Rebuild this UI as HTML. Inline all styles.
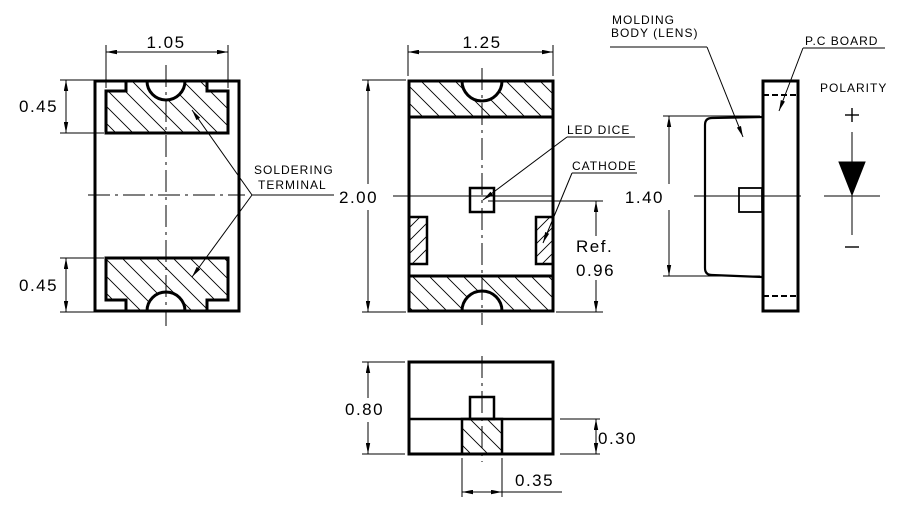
<!DOCTYPE html>
<html><head><meta charset="utf-8"><style>
html,body{margin:0;padding:0;background:#fff;}
svg{display:block;}
text{font-family:"Liberation Sans",sans-serif;fill:#000;}
</style></head><body>
<svg width="901" height="510" viewBox="0 0 901 510" xmlns="http://www.w3.org/2000/svg">
<defs>
<pattern id="hb" patternUnits="userSpaceOnUse" width="17" height="17">
<path d="M0,0 L17,17 M-4,13 L4,21 M13,-4 L21,4" stroke="#000" stroke-width="0.9"/></pattern>
<pattern id="hf" patternUnits="userSpaceOnUse" width="13" height="13">
<path d="M0,13 L13,0 M-3,3 L3,-3 M10,16 L16,10" stroke="#000" stroke-width="0.9"/></pattern>
<marker id="a" viewBox="0 0 10 4" refX="10" refY="2" markerWidth="11" markerHeight="4.5" orient="auto-start-reverse" markerUnits="userSpaceOnUse">
<path d="M0,0 L10,2 L0,4 z" fill="#000"/></marker>
</defs>
<g fill="none" stroke="#000">
<!-- LEFT VIEW -->
<rect x="95" y="81" width="144" height="230" stroke-width="3"/>
<path d="M106,91 H126 V81 H147 A19,19 0 0 0 185,81 H207 V91 H228 V133 H106 Z" fill="url(#hb)" stroke-width="3"/>
<path d="M106,258 H228 V300 H207 V311 H185 A19,19 0 0 0 147,311 H126 V300 H106 Z" fill="url(#hb)" stroke-width="3"/>
<line x1="166" y1="65" x2="166" y2="326" stroke-width="1" stroke-dasharray="22,5,3,5"/>
<line x1="88" y1="195" x2="245" y2="195" stroke-width="1" stroke-dasharray="22,5,3,5"/>
<line x1="106" y1="45" x2="106" y2="88" stroke-width="1"/>
<line x1="228" y1="45" x2="228" y2="88" stroke-width="1"/>
<line x1="106" y1="52" x2="228" y2="52" stroke-width="1" marker-start="url(#a)" marker-end="url(#a)"/>
<line x1="60" y1="80" x2="94" y2="80" stroke-width="1"/>
<line x1="60" y1="133" x2="104" y2="133" stroke-width="1"/>
<line x1="66" y1="80" x2="66" y2="133" stroke-width="1" marker-start="url(#a)" marker-end="url(#a)"/>
<line x1="60" y1="258" x2="104" y2="258" stroke-width="1"/>
<line x1="60" y1="312" x2="94" y2="312" stroke-width="1"/>
<line x1="66" y1="258" x2="66" y2="312" stroke-width="1" marker-start="url(#a)" marker-end="url(#a)"/>
<line x1="252" y1="195" x2="334" y2="195" stroke-width="1"/>
<line x1="252" y1="195" x2="192" y2="110" stroke-width="1" marker-end="url(#a)"/>
<line x1="252" y1="195" x2="192" y2="277" stroke-width="1" marker-end="url(#a)"/>
<!-- MIDDLE VIEW -->
<rect x="409" y="81" width="144" height="230" stroke-width="3"/>
<path d="M409,81 H462 A20,20 0 0 0 502,81 H553 V117 H409 Z" fill="url(#hb)" stroke-width="3"/>
<path d="M409,276 H553 V311 H502 A20,20 0 0 0 462,311 H409 Z" fill="url(#hb)" stroke-width="3"/>
<rect x="409" y="217" width="18" height="47" fill="url(#hf)" stroke-width="2.5"/>
<rect x="536" y="217" width="17" height="47" fill="url(#hf)" stroke-width="2.5"/>
<rect x="470" y="188" width="24" height="24" fill="#fff" stroke-width="2.5"/>
<line x1="482" y1="68" x2="482" y2="325" stroke-width="1" stroke-dasharray="22,5,3,5"/>
<line x1="393" y1="196" x2="553" y2="196" stroke-width="1"/>
<line x1="408" y1="45" x2="408" y2="76" stroke-width="1"/>
<line x1="553" y1="45" x2="553" y2="76" stroke-width="1"/>
<line x1="408" y1="52" x2="553" y2="52" stroke-width="1" marker-start="url(#a)" marker-end="url(#a)"/>
<line x1="362" y1="80" x2="406" y2="80" stroke-width="1"/>
<line x1="362" y1="312" x2="406" y2="312" stroke-width="1"/>
<line x1="368" y1="80" x2="368" y2="184" stroke-width="1" marker-start="url(#a)"/>
<line x1="368" y1="210" x2="368" y2="312" stroke-width="1" marker-end="url(#a)"/>
<line x1="488" y1="201" x2="603" y2="201" stroke-width="1"/>
<line x1="556" y1="312" x2="603" y2="312" stroke-width="1"/>
<line x1="596" y1="201" x2="596" y2="236" stroke-width="1" marker-start="url(#a)"/>
<line x1="596" y1="280" x2="596" y2="312" stroke-width="1" marker-end="url(#a)"/>
<line x1="567" y1="137" x2="635" y2="137" stroke-width="1"/>
<line x1="567" y1="137" x2="483" y2="200" stroke-width="1" marker-end="url(#a)"/>
<line x1="572" y1="173" x2="637" y2="173" stroke-width="1"/>
<line x1="572" y1="173" x2="543" y2="243" stroke-width="1" marker-end="url(#a)"/>
<!-- RIGHT VIEW -->
<rect x="763" y="81" width="35" height="230" stroke-width="3"/>
<line x1="763" y1="95" x2="798" y2="95" stroke-width="2" stroke-dasharray="6,3"/>
<line x1="763" y1="296" x2="798" y2="296" stroke-width="2" stroke-dasharray="6,3"/>
<path d="M762,117 L712,118 Q705,118 705,125 V268 Q705,275 712,275 L762,277" stroke-width="2.2"/>
<rect x="739" y="188" width="23" height="24" stroke-width="1.8"/>
<line x1="694" y1="196" x2="801" y2="196" stroke-width="1"/>
<line x1="663" y1="116" x2="760" y2="116" stroke-width="1"/>
<line x1="663" y1="276" x2="760" y2="276" stroke-width="1"/>
<line x1="669" y1="116" x2="669" y2="184" stroke-width="1" marker-start="url(#a)"/>
<line x1="669" y1="210" x2="669" y2="276" stroke-width="1" marker-end="url(#a)"/>
<line x1="610" y1="47" x2="707" y2="47" stroke-width="1"/>
<line x1="707" y1="47" x2="743" y2="137" stroke-width="1" marker-end="url(#a)"/>
<line x1="803" y1="48" x2="885" y2="48" stroke-width="1"/>
<line x1="803" y1="48" x2="779" y2="111" stroke-width="1" marker-end="url(#a)"/>
<line x1="852" y1="132" x2="852" y2="235" stroke-width="1"/>
<line x1="824" y1="196" x2="880" y2="196" stroke-width="1"/>
<path d="M839,162 H865 L852,195 Z" fill="#000" stroke-width="1"/>
<line x1="845" y1="115" x2="859" y2="115" stroke-width="1.4"/>
<line x1="852" y1="108" x2="852" y2="122" stroke-width="1.4"/>
<line x1="845" y1="247" x2="859" y2="247" stroke-width="1.4"/>
<!-- BOTTOM VIEW -->
<rect x="409" y="362" width="144" height="92" stroke-width="3"/>
<line x1="409" y1="419" x2="553" y2="419" stroke-width="2.5"/>
<rect x="470" y="397" width="24" height="22" stroke-width="2.5"/>
<rect x="462" y="419" width="40" height="35" fill="url(#hb)" stroke-width="2.5"/>
<line x1="482" y1="356" x2="482" y2="462" stroke-width="1" stroke-dasharray="22,5,3,5"/>
<line x1="362" y1="362" x2="405" y2="362" stroke-width="1"/>
<line x1="362" y1="454" x2="405" y2="454" stroke-width="1"/>
<line x1="368" y1="362" x2="368" y2="398" stroke-width="1" marker-start="url(#a)"/>
<line x1="368" y1="422" x2="368" y2="454" stroke-width="1" marker-end="url(#a)"/>
<line x1="560" y1="419" x2="600" y2="419" stroke-width="1"/>
<line x1="560" y1="454" x2="600" y2="454" stroke-width="1"/>
<line x1="596" y1="419" x2="596" y2="454" stroke-width="1" marker-start="url(#a)" marker-end="url(#a)"/>
<line x1="462" y1="458" x2="462" y2="497" stroke-width="1"/>
<line x1="502" y1="458" x2="502" y2="497" stroke-width="1"/>
<line x1="462" y1="492" x2="502" y2="492" stroke-width="1" marker-start="url(#a)" marker-end="url(#a)"/>
<line x1="502" y1="492" x2="562" y2="492" stroke-width="1"/>
</g>
<g font-size="17" letter-spacing="1.5">
<text x="166" y="48" text-anchor="middle">1.05</text>
<text x="19" y="112">0.45</text>
<text x="19" y="291">0.45</text>
<text x="482" y="48" text-anchor="middle">1.25</text>
<text x="339" y="203">2.00</text>
<text x="576" y="252">Ref.</text>
<text x="576" y="276">0.96</text>
<text x="664" y="203" text-anchor="end">1.40</text>
<text x="345" y="415">0.80</text>
<text x="598" y="444">0.30</text>
<text x="515" y="486">0.35</text>
</g>
<g font-size="12" letter-spacing="1">
<text x="254" y="174">SOLDERING</text>
<text x="258" y="189">TERMINAL</text>
<text x="567" y="134">LED DICE</text>
<text x="572" y="170">CATHODE</text>
<text x="612" y="24">MOLDING</text>
<text x="611" y="37">BODY (LENS)</text>
<text x="805" y="45">P.C BOARD</text>
<text x="820" y="92">POLARITY</text>
</g>
</svg>
</body></html>
